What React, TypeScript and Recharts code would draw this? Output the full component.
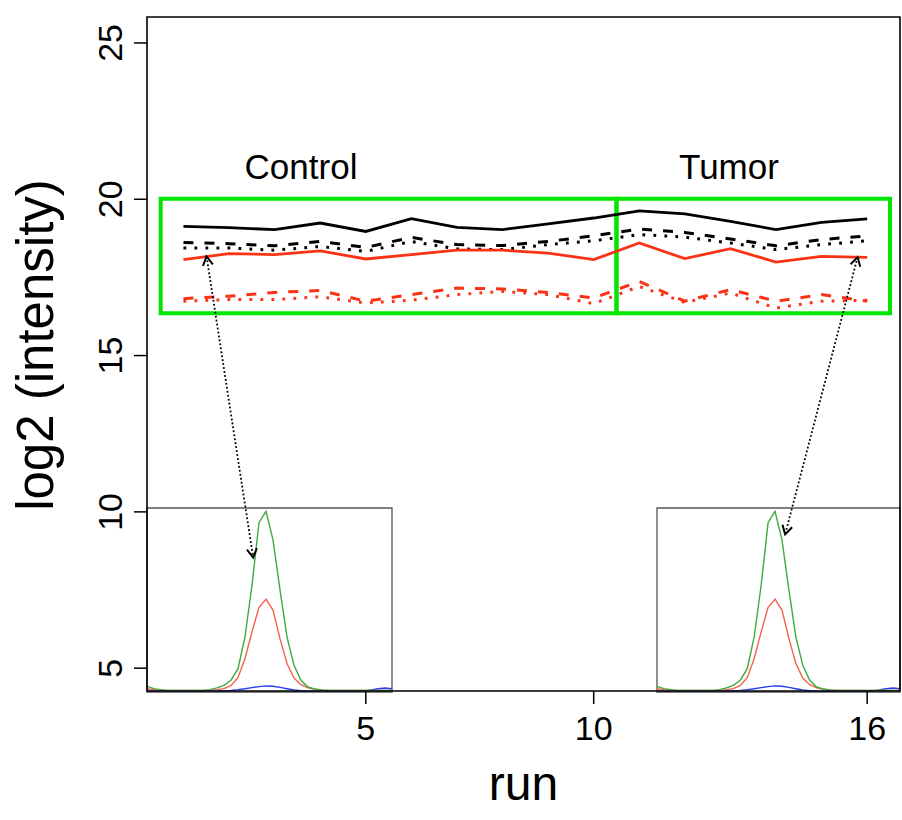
import React from 'react';
import { LineChart, Line, XAxis, YAxis, ReferenceArea, ReferenceLine } from 'recharts';

// ---- main chart data ----
const runs = [1, 2, 3, 4, 5, 6, 7, 8, 9, 10, 11, 12, 13, 14, 15, 16];
const blackSolid = [19.13, 19.09, 19.03, 19.24, 18.97, 19.38, 19.1, 19.03, 19.21, 19.4, 19.63, 19.53, 19.29, 19.03, 19.26, 19.37];
const blackDashed = [18.62, 18.58, 18.51, 18.65, 18.46, 18.78, 18.55, 18.52, 18.65, 18.83, 19.05, 18.94, 18.73, 18.51, 18.71, 18.83];
const blackDotted = [18.44, 18.44, 18.37, 18.49, 18.33, 18.65, 18.41, 18.39, 18.55, 18.67, 18.87, 18.79, 18.6, 18.39, 18.55, 18.67];
const redSolid = [18.07, 18.26, 18.23, 18.35, 18.09, 18.23, 18.37, 18.37, 18.28, 18.07, 18.6, 18.1, 18.42, 17.99, 18.17, 18.14];
const redDashed = [16.82, 16.9, 17.02, 17.08, 16.74, 16.95, 17.16, 17.13, 17.02, 16.84, 17.37, 16.74, 17.11, 16.74, 16.95, 16.74];
const redDotted = [16.74, 16.79, 16.79, 16.88, 16.68, 16.77, 16.95, 17.05, 16.95, 16.66, 17.21, 16.7, 17.0, 16.52, 16.74, 16.77];

const xTicks = [5, 10, 16];
const yTicks = [5, 10, 15, 20, 25];
const xDomain = [0.2, 16.72];
const yDomain = [4.27, 25.83];

// group boxes
const boxY = [16.35, 20.02];
const controlBox = [0.5, 10.5];
const tumorBox = [10.5, 16.5];

// arrows (data coordinates of the main plot)
const arrowLeft = [{ x: 1.507, y: 18.17 }, { x: 2.53, y: 8.54 }];
const arrowRight = [{ x: 15.79, y: 18.15 }, { x: 14.2, y: 9.28 }];

// ---- inset chromatogram data ----
const scanIdx = [0, 1, 2, 3, 4, 5, 6, 7, 8, 9, 10, 11, 12, 13, 14, 15, 16, 17, 18, 19, 20, 21, 22, 23, 24, 25, 26, 27, 28, 29, 30, 31, 32, 33, 34, 35];
const greenTrace = [3.1, 1.8, 1.3, 0.9, 0.9, 0.9, 0.9, 0.9, 0.9, 1.3, 2.2, 3.6, 6.4, 12.7, 30, 58, 92, 98.2, 82.7, 55.5, 30, 14.5, 6.4, 2.7, 1.6, 1.1, 0.9, 0.9, 0.9, 0.9, 0.9, 0.9, 0.9, 0.9, 0.9, 0.9];
const redTrace = [1.8, 1.3, 0.9, 0.9, 0.9, 0.9, 0.9, 0.9, 0.9, 0.9, 1.3, 1.8, 3.6, 7.8, 18.2, 32.7, 46, 50.5, 44.5, 29, 15.5, 7.6, 4, 2.2, 1.5, 0.9, 0.9, 0.9, 0.9, 0.9, 0.9, 0.9, 0.9, 0.9, 0.9, 0.9];
const blueTrace = [0.5, 0.5, 0.5, 0.5, 0.5, 0.5, 0.5, 0.5, 0.5, 0.5, 0.5, 0.7, 0.9, 1.3, 1.8, 2.4, 2.9, 3.3, 3.1, 2.5, 1.8, 1.1, 0.7, 0.5, 0.5, 0.5, 0.5, 0.5, 0.5, 0.5, 0.5, 0.5, 1.1, 1.8, 2.2, 1.8];

const mainData = runs.map((r, i) => ({
  run: r,
  bs: blackSolid[i],
  bd: blackDashed[i],
  bo: blackDotted[i],
  rs: redSolid[i],
  rd: redDashed[i],
  ro: redDotted[i],
}));

const insetData = scanIdx.map((t, i) => ({ t, g: greenTrace[i], r: redTrace[i], b: blueTrace[i] }));

const FONT = '"Liberation Sans", Arial, Helvetica, sans-serif';
const RED = '#fa3216';
const GREEN_BOX = '#00e600';

const YTick = (props: any) => {
  const { x, y, payload } = props;
  const bx = x - 12;
  return (
    <text x={bx} y={y} transform={`rotate(-90 ${bx} ${y})`} textAnchor="middle" fontSize={34} fill="#000" fontFamily={FONT}>
      {payload.value}
    </text>
  );
};

const XTick = (props: any) => {
  const { x, y, payload } = props;
  return (
    <text x={x} y={y + 36} textAnchor="middle" fontSize={34} fill="#000" fontFamily={FONT}>
      {payload.value}
    </text>
  );
};

const ArrowShape = (props: any) => {
  let { x1, y1, x2, y2 } = props;
  if (x1 === undefined && props.points) {
    x1 = props.points[0].x; y1 = props.points[0].y; x2 = props.points[1].x; y2 = props.points[1].y;
  }
  if (x1 === undefined) return null;
  const L = 10;
  const head = (px: number, py: number, qx: number, qy: number) => {
    const dx = px - qx, dy = py - qy;
    const len = Math.sqrt(dx * dx + dy * dy) || 1;
    const ux = dx / len, uy = dy / len;
    const a = Math.PI / 6;
    const c = Math.cos(a), s = Math.sin(a);
    const r1x = ux * c - uy * s, r1y = ux * s + uy * c;
    const r2x = ux * c + uy * s, r2y = -ux * s + uy * c;
    return `M ${px - L * r1x} ${py - L * r1y} L ${px} ${py} L ${px - L * r2x} ${py - L * r2y}`;
  };
  return (
    <g>
      <line x1={x1} y1={y1} x2={x2} y2={y2} stroke="#000" strokeWidth={1.8} strokeDasharray="1.8 2.2" />
      <path d={head(x1, y1, x2, y2)} stroke="#000" strokeWidth={2} fill="none" />
      <path d={head(x2, y2, x1, y1)} stroke="#000" strokeWidth={2} fill="none" />
    </g>
  );
};

const Inset = ({ left, top, width }: { left: number; top: number; width: number }) => (
  <div style={{ position: 'absolute', left, top }}>
    <LineChart width={width} height={186} data={insetData} margin={{ top: 1, right: 1, bottom: 1, left: 1 }}>
      <XAxis type="number" dataKey="t" domain={[0, 35]} hide allowDataOverflow />
      <YAxis type="number" domain={[0, 100]} hide allowDataOverflow />
      <ReferenceArea x1={0} x2={35} y1={0} y2={100} fill="#fff" fillOpacity={1} stroke="#555" strokeWidth={1.3} ifOverflow="visible" />
      <Line type="linear" dataKey="b" stroke="#2a3cf0" strokeWidth={1.4} dot={false} isAnimationActive={false} />
      <Line type="linear" dataKey="r" stroke="#f5604a" strokeWidth={1.4} dot={false} isAnimationActive={false} />
      <Line type="linear" dataKey="g" stroke="#3faa3f" strokeWidth={1.4} dot={false} isAnimationActive={false} />
    </LineChart>
  </div>
);

export default function App() {
  return (
    <div style={{ position: 'absolute', left: 0, top: 0, width: 902, height: 820, background: '#fff' }}>
      <Inset left={146} top={507} width={247} />
      <Inset left={656} top={507} width={245} />
      <div style={{ position: 'absolute', left: 0, top: 0 }}>
        <LineChart width={902} height={820} data={mainData} margin={{ top: 17, right: 2, bottom: 0, left: 0 }}>
          <XAxis
            type="number"
            dataKey="run"
            domain={xDomain}
            ticks={xTicks}
            allowDataOverflow
            height={129}
            tickSize={13}
            tickMargin={0}
            axisLine={false}
            tickLine={{ stroke: '#000', strokeWidth: 1.5 }}
            tick={<XTick />}
          />
          <YAxis
            type="number"
            domain={yDomain}
            ticks={yTicks}
            allowDataOverflow
            width={147}
            tickSize={13}
            tickMargin={0}
            axisLine={false}
            tickLine={{ stroke: '#000', strokeWidth: 1.5 }}
            tick={<YTick />}
          />
          <ReferenceArea x1={xDomain[0]} x2={xDomain[1]} y1={yDomain[0]} y2={yDomain[1]} fill="none" stroke="#000" strokeWidth={1.6} ifOverflow="visible" />
          <ReferenceArea x1={controlBox[0]} x2={controlBox[1]} y1={boxY[0]} y2={boxY[1]} fill="none" stroke={GREEN_BOX} strokeWidth={4} ifOverflow="visible" />
          <ReferenceArea x1={tumorBox[0]} x2={tumorBox[1]} y1={boxY[0]} y2={boxY[1]} fill="none" stroke={GREEN_BOX} strokeWidth={4} ifOverflow="visible" />
          <Line type="linear" dataKey="bs" stroke="#000" strokeWidth={2.8} dot={false} isAnimationActive={false} />
          <Line type="linear" dataKey="bd" stroke="#000" strokeWidth={3} strokeDasharray="10 11" dot={false} isAnimationActive={false} />
          <Line type="linear" dataKey="bo" stroke="#000" strokeWidth={3} strokeDasharray="2.8 8.2" dot={false} isAnimationActive={false} />
          <Line type="linear" dataKey="rs" stroke={RED} strokeWidth={2.8} dot={false} isAnimationActive={false} />
          <Line type="linear" dataKey="rd" stroke={RED} strokeWidth={3} strokeDasharray="10 11" dot={false} isAnimationActive={false} />
          <Line type="linear" dataKey="ro" stroke={RED} strokeWidth={3} strokeDasharray="2.8 8.2" dot={false} isAnimationActive={false} />
          <ReferenceLine segment={arrowLeft} shape={ArrowShape} ifOverflow="visible" />
          <ReferenceLine segment={arrowRight} shape={ArrowShape} ifOverflow="visible" />
        </LineChart>
      </div>
      <svg width={902} height={820} style={{ position: 'absolute', left: 0, top: 0, pointerEvents: 'none' }}>
        <text x={301} y={179} textAnchor="middle" fontSize={35} fontFamily={FONT} fill="#000">Control</text>
        <text x={729} y={179} textAnchor="middle" fontSize={35} fontFamily={FONT} fill="#000">Tumor</text>
        <text x={523.5} y={800} textAnchor="middle" fontSize={48} fontFamily={FONT} fill="#000">run</text>
        <text x={53} y={345} transform="rotate(-90 53 345)" textAnchor="middle" fontSize={51} fontFamily={FONT} fill="#000">log2 (intensity)</text>
      </svg>
    </div>
  );
}
